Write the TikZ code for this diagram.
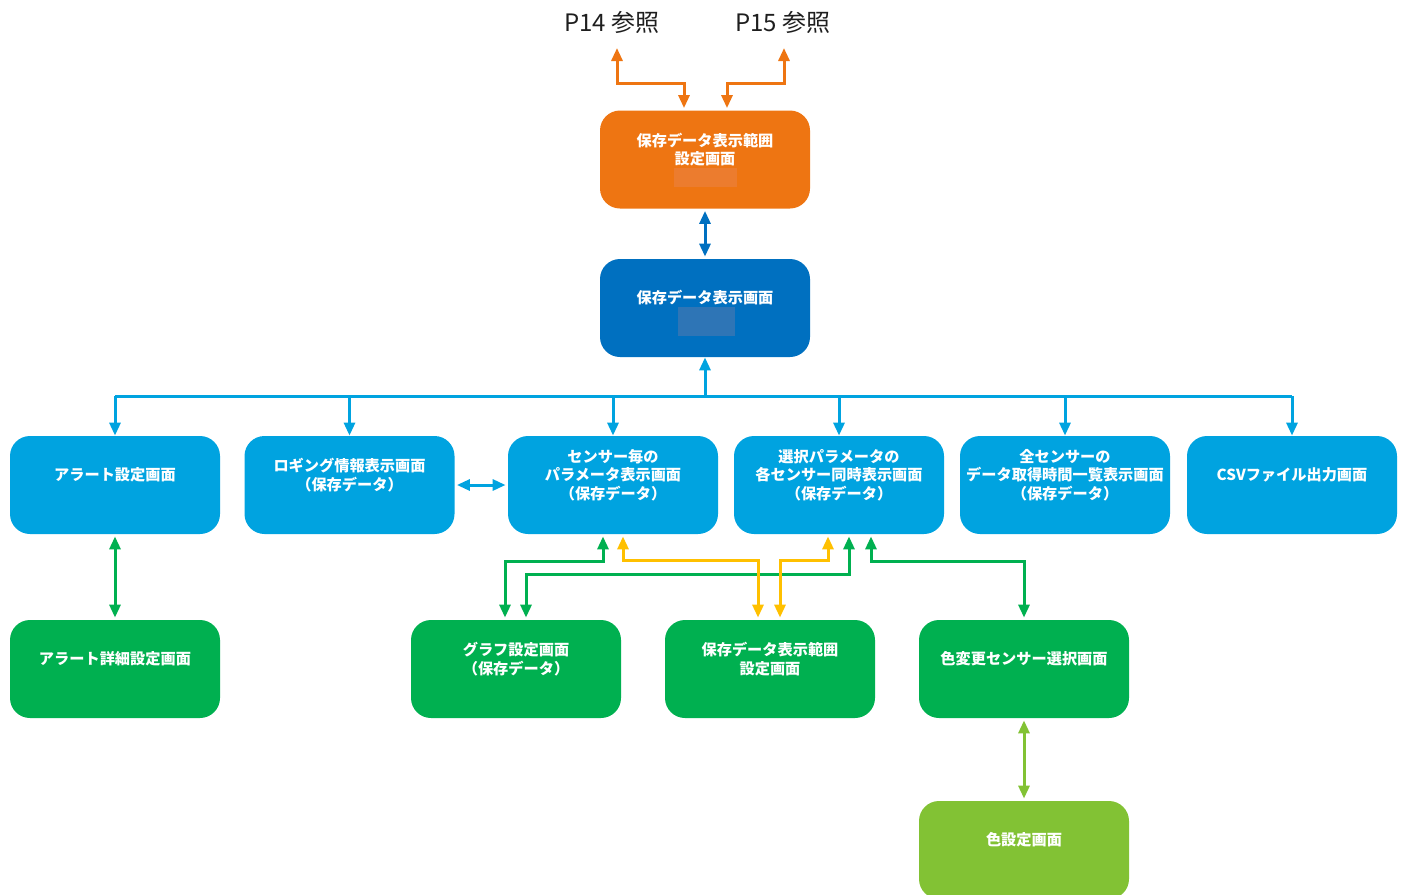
\documentclass[tikz,border=0pt]{standalone}
\usepackage{fontspec}
\setmainfont{Noto Sans CJK JP}
\usetikzlibrary{arrows.meta,calc}

\definecolor{cOrange}{RGB}{238,117,18}
\definecolor{cOrangeIn}{RGB}{236,124,46}
\definecolor{cDark}{RGB}{0,112,192}
\definecolor{cDarkIn}{RGB}{46,117,182}
\definecolor{cLight}{RGB}{0,163,224}
\definecolor{cGreen}{RGB}{0,176,80}
\definecolor{cLime}{RGB}{130,194,52}
\definecolor{cYellow}{RGB}{255,192,0}
\definecolor{cText}{RGB}{30,30,30}

\tikzset{
  box/.style={rounded corners=10pt, minimum width=105pt, minimum height=49pt,
              inner sep=0pt, fill=#1},
  boxtext/.style={text=white, align=center, inner sep=0pt,
              font=\bfseries\fontsize{7.6}{9.25}\selectfont},
  ref/.style={text=cText, inner sep=0pt, font=\fontsize{12}{13}\selectfont},
  wire/.style={line width=1.5pt, draw=#1},
  tipone/.style={-{Triangle[length=6.5pt,width=5.5pt]}},
  tiptwo/.style={{Triangle[length=6.5pt,width=5.5pt]}-{Triangle[length=6.5pt,width=5.5pt]}},
}

\begin{document}
\begin{tikzpicture}[x=0.5pt, y=-0.5pt]
\useasboundingbox (0,0) rectangle (1405,895);

% page references
\node[ref] (p14) at (612,22) {P14 参照};
\node[ref] (p15) at (783,22) {P15 参照};
\coordinate (p14in) at ($(p14.center)+(5,26)$);
\coordinate (p15in) at ($(p15.center)+(1,26)$);

% top screens
\node[box=cOrange] (rng) at (705,159.5) {};
\fill[cOrangeIn] (674,168) rectangle (737,187);
\node[boxtext] (rng-t) at ($(rng.center)+(0,-10)$) {保存データ表示範囲\\設定画面};

\node[box=cDark] (disp) at (705,308) {};
\fill[cDarkIn] (678,307) rectangle (735,336);
\node[boxtext] (disp-t) at ($(disp.center)+(0,-10)$) {保存データ表示画面};

% second row
\node[box=cLight] (alert) at (115,485) {};
\node[boxtext] (alert-t) at ($(alert.center)+(0,-10)$) {アラート設定画面};
\node[box=cLight] (log) at (349.5,485) {};
\node[boxtext] (log-t) at ($(log.center)+(0,-10)$) {ロギング情報表示画面\\（保存データ）};
\node[box=cLight] (sp) at (613,485) {};
\node[boxtext] (sp-t) at ($(sp.center)+(0,-10)$) {センサー毎の\\パラメータ表示画面\\（保存データ）};
\node[box=cLight] (sel) at (839,485) {};
\node[boxtext] (sel-t) at ($(sel.center)+(0,-10)$) {選択パラメータの\\各センサー同時表示画面\\（保存データ）};
\node[box=cLight] (all) at (1065,485) {};
\node[boxtext] (all-t) at ($(all.center)+(0,-10)$) {全センサーの\\データ取得時間一覧表示画面\\（保存データ）};
\node[box=cLight] (csv) at (1292,485) {};
\node[boxtext] (csv-t) at ($(csv.center)+(0,-10)$) {CSVファイル出力画面};

% third row
\node[box=cGreen] (aldet) at (115,669) {};
\node[boxtext] (aldet-t) at ($(aldet.center)+(0,-10)$) {アラート詳細設定画面};
\node[box=cGreen] (graph) at (516,669) {};
\node[boxtext] (graph-t) at ($(graph.center)+(0,-10)$) {グラフ設定画面\\（保存データ）};
\node[box=cGreen] (rng2) at (770,669) {};
\node[boxtext] (rng2-t) at ($(rng2.center)+(0,-10)$) {保存データ表示範囲\\設定画面};
\node[box=cGreen] (colsel) at (1024,669) {};
\node[boxtext] (colsel-t) at ($(colsel.center)+(0,-10)$) {色変更センサー選択画面};

% bottom
\node[box=cLime] (colset) at (1024,850) {};
\node[boxtext] (colset-t) at ($(colset.center)+(0,-10)$) {色設定画面};

% links to the page references
\draw[wire=cOrange, tiptwo] ($(rng.north)+(-21,-2)$) -- ++(0,-25) -| (p14in);
\draw[wire=cOrange, tiptwo] ($(rng.north)+(22,-2)$) -- ++(0,-25) -| (p15in);

% range setting <-> data display
\draw[wire=cDark, tiptwo, shorten <=1pt, shorten >=1pt] (rng.south) -- (disp.north);

% distribution bus
\coordinate (bus) at ($(disp.south)+(0,39)$);
\draw[wire=cLight, tipone] (bus) -- (disp.south);
\draw[wire=cLight] (alert.north |- bus) -- (csv.north |- bus);
\foreach \n in {alert,log,sp,sel,all,csv}
  \draw[wire=cLight, tipone] (\n.north |- bus) -- (\n.north);

\draw[wire=cLight, tiptwo, shorten <=1pt, shorten >=1pt] (log.east) -- (sp.west);

% green links
\draw[wire=cGreen, tiptwo, shorten <=1pt, shorten >=1pt] (alert.south) -- (aldet.north);
\draw[wire=cGreen, tiptwo, shorten <=1pt, shorten >=1pt] ($(sp.south)+(-10,0)$) -- ++(0,27) -| ($(graph.north)+(-11,0)$);
\draw[wire=cGreen, tiptwo, shorten <=1pt, shorten >=1pt] ($(sel.south)+(10,0)$) -- ++(0,40) -| ($(graph.north)+(10,0)$);
\draw[wire=cGreen, tiptwo, shorten <=1pt, shorten >=1pt] ($(sel.south)+(32,0)$) -- ++(0,27) -| (colsel.north);

% yellow links
\draw[wire=cYellow, tiptwo, shorten <=1pt, shorten >=1pt] ($(sp.south)+(10,0)$) -- ++(0,26) -| ($(rng2.north)+(-12,0)$);
\draw[wire=cYellow, tiptwo, shorten <=1pt, shorten >=1pt] ($(sel.south)+(-11,0)$) -- ++(0,26) -| ($(rng2.north)+(10,0)$);

% colour screens
\draw[wire=cLime, tiptwo, shorten <=1pt, shorten >=1pt] (colsel.south) -- (colset.north);
\end{tikzpicture}
\end{document}
